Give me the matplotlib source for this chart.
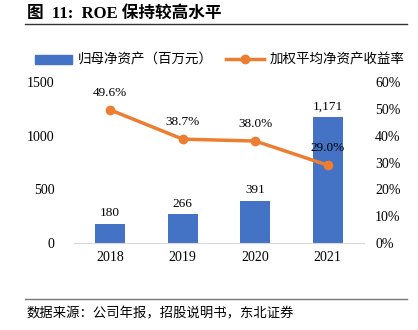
import numpy as np
import matplotlib.pyplot as plt
from matplotlib.lines import Line2D
from matplotlib.patches import Patch

years = ['2018', '2019', '2020', '2021']
net_assets = [180, 266, 391, 1171]
roe = [49.6, 38.7, 38.0, 29.0]
left_ticks = [0, 500, 1000, 1500]
right_ticks = [0, 10, 20, 30, 40, 50, 60]

cjk = ['Noto Sans CJK SC', 'DejaVu Sans']
num = 'Liberation Serif'
blue = '#4472C4'
orange = '#ED7D31'

fig = plt.figure(figsize=(4.18, 3.3), dpi=100)
ax = fig.add_axes([74/418, 1-243/330, 290/418, 161/330])
ax2 = ax.twinx()

x = np.arange(len(years))
ax.bar(x, net_assets, width=0.42, color=blue, zorder=2)
ax.set_xlim(-0.5, 3.5)
ax.set_ylim(0, 1500)
ax.set_yticks(left_ticks)
ax.set_xticks(x)
ax.set_xticklabels(years, fontfamily=num, fontsize=10)
for lab in ax.get_yticklabels():
    lab.set_fontfamily(num)
    lab.set_fontsize(10)
ax.tick_params(length=0, pad=14)
ax.tick_params(axis='x', pad=6)
for s in ['top', 'right', 'left']:
    ax.spines[s].set_visible(False)
ax.spines['bottom'].set_color('#d9d9d9')
for xi, v in zip(x, net_assets):
    ax.text(xi, v + 45, f'{v:,}', ha='center', va='bottom', fontfamily=num, fontsize=9.5)

ax2.plot(x, roe, color=orange, lw=2.5, marker='o', ms=6, zorder=3)
ax2.set_ylim(0, 60)
ax2.set_yticks(right_ticks)
ax2.set_yticklabels([f'{t}%' for t in right_ticks], fontfamily=num, fontsize=10)
ax2.tick_params(length=0, pad=8)
for s in ax2.spines.values():
    s.set_visible(False)
for xi, v in zip(x, roe):
    ax2.text(xi, v + 4, f'{v:.1f}%', ha='center', va='bottom', fontfamily=num, fontsize=9.5)

handles = [Patch(color=blue), Line2D([0], [0], color=orange, lw=2.5, marker='o', ms=6)]
fig.legend(handles, ['归母净资产（百万元）', '加权平均净资产收益率'], loc='center',
           bbox_to_anchor=(0.525, 1-60/330), ncol=2, frameon=False,
           prop={'family': cjk, 'size': 9.7}, handlelength=2.8, columnspacing=1.0,
           handletextpad=0.4)

fig.text(27/418, 1-14/330, '图  11:  ROE 保持较高水平', fontfamily=['Liberation Serif', 'Noto Sans CJK SC'],
         fontsize=12, fontweight='bold', va='center')
fig.add_artist(Line2D([25/418, 407/418], [1-24/330, 1-24/330], color='#333333', lw=1))
fig.add_artist(Line2D([25/418, 407/418], [1-299/330, 1-299/330], color='#777777', lw=1))
fig.text(27/418, 1-313/330, '数据来源：公司年报，招股说明书，东北证券', fontfamily=cjk,
         fontsize=9.6, va='center')

fig.savefig('out.png', dpi=100)
